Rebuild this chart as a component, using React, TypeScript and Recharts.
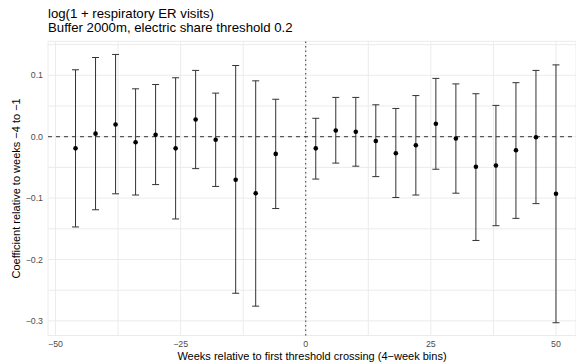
import React from 'react';
import {
  ScatterChart,
  Scatter,
  XAxis,
  YAxis,
  CartesianGrid,
  ReferenceLine,
  ErrorBar,
} from 'recharts';

// Bin centres (weeks relative to first threshold crossing)
const weeks = [-46, -42, -38, -34, -30, -26, -22, -18, -14, -10, -6, 2, 6, 10, 14, 18, 22, 26, 30, 34, 38, 42, 46, 50];
// Point estimates
const estimates = [
  -0.019, 0.005, 0.020, -0.009, 0.003, -0.019, 0.028, -0.005, -0.070, -0.092, -0.028,
  -0.019, 0.010, 0.008, -0.007, -0.027, -0.014, 0.021, -0.003, -0.049, -0.047, -0.022, -0.001, -0.093,
];
// Lower confidence bounds
const lowerCI = [
  -0.147, -0.119, -0.093, -0.095, -0.078, -0.134, -0.052, -0.081, -0.255, -0.276, -0.117,
  -0.069, -0.043, -0.048, -0.065, -0.099, -0.095, -0.053, -0.092, -0.169, -0.145, -0.133, -0.109, -0.303,
];
// Upper confidence bounds
const upperCI = [
  0.109, 0.129, 0.134, 0.078, 0.085, 0.096, 0.108, 0.071, 0.116, 0.091, 0.061,
  0.030, 0.064, 0.064, 0.052, 0.046, 0.067, 0.095, 0.086, 0.070, 0.051, 0.088, 0.108, 0.117,
];

const xTicks = [-50, -37.5, -25, -12.5, 0, 12.5, 25, 37.5, 50];
const yTicks = [-0.3, -0.25, -0.2, -0.15, -0.1, -0.05, 0, 0.05, 0.1, 0.15];

const titleLine1 = 'log(1 + respiratory ER visits)';
const titleLine2 = 'Buffer 2000m, electric share threshold 0.2';
const xTitle = 'Weeks relative to first threshold crossing (4\u2212week bins)';
const yTitle = 'Coefficient relative to weeks \u22124 to \u22121';

const data = weeks.map((w, i) => ({
  x: w,
  y: estimates[i],
  err: [estimates[i] - lowerCI[i], upperCI[i] - estimates[i]],
}));

const FONT = '"Liberation Sans", Arial, Helvetica, sans-serif';
const minus = (s: string) => s.replace('-', '\u2212');

const isMajor = (v: number, step: number) => Math.abs(v / step - Math.round(v / step)) < 1e-6;

const xFmt = (v: number) => (isMajor(v, 25) ? minus(String(v)) : '');
const yFmt = (v: number) => (isMajor(v, 0.1) ? minus((Math.abs(v) < 1e-9 ? 0 : v).toFixed(1)) : '');

const Dot = (p: any) => <circle cx={p.cx} cy={p.cy} r={2.3} fill="#000" />;

export default function App() {
  const W = 576;
  const H = 364;
  const top = 41.3;
  const xAxisH = 28.5;
  const yAxisW = 48;
  return (
    <div style={{ position: 'absolute', left: 0, top: 0, width: W, height: H, background: '#fff', fontFamily: FONT }}>
      <div
        style={{
          position: 'absolute',
          left: 48,
          top: 6.9,
          fontSize: 13.2,
          lineHeight: '14px',
          color: '#000',
          whiteSpace: 'nowrap',
        }}
      >
        <div>{titleLine1}</div>
        <div>{titleLine2}</div>
      </div>
      <ScatterChart width={W} height={H} margin={{ top, right: 0, bottom: 0, left: 0 }}>
        <CartesianGrid stroke="#EBEBEB" strokeWidth={1} />
        <XAxis
          type="number"
          dataKey="x"
          domain={[-51.5, 54]}
          allowDataOverflow
          ticks={xTicks}
          interval={0}
          tickFormatter={xFmt}
          axisLine={false}
          tickLine={false}
          tickSize={0}
          tickMargin={5.5}
          height={xAxisH}
          tick={{ fill: '#4D4D4D', fontSize: 8.8, fontFamily: FONT }}
          label={{
            content: (props: any) => {
              const vb = props.viewBox || {};
              return (
                <text
                  x={vb.x + vb.width / 2}
                  y={360}
                  textAnchor="middle"
                  fontSize={11}
                  fontFamily={FONT}
                  fill="#000"
                >
                  {xTitle}
                </text>
              );
            },
          }}
        />
        <YAxis
          type="number"
          dataKey="y"
          domain={[-0.3238, 0.1554]}
          allowDataOverflow
          ticks={yTicks}
          interval={0}
          tickFormatter={yFmt}
          axisLine={false}
          tickLine={false}
          tickSize={0}
          tickMargin={5}
          width={yAxisW}
          tick={{ fill: '#4D4D4D', fontSize: 8.8, fontFamily: FONT }}
          label={{
            content: (props: any) => {
              const vb = props.viewBox || {};
              const cy = vb.y + vb.height / 2;
              return (
                <text
                  x={0}
                  y={0}
                  transform={`translate(20, ${cy}) rotate(-90)`}
                  textAnchor="middle"
                  fontSize={11}
                  fontFamily={FONT}
                  fill="#000"
                >
                  {yTitle}
                </text>
              );
            },
          }}
        />
        <ReferenceLine y={0} stroke="#333" strokeWidth={1} strokeDasharray="4 4" />
        <ReferenceLine x={0} stroke="#333" strokeWidth={1} strokeDasharray="1.5 3" />
        <Scatter data={data} shape={Dot} isAnimationActive={false}>
          <ErrorBar dataKey="err" direction="y" width={3.5} stroke="#333" strokeWidth={1} isAnimationActive={false} />
        </Scatter>
      </ScatterChart>
    </div>
  );
}
